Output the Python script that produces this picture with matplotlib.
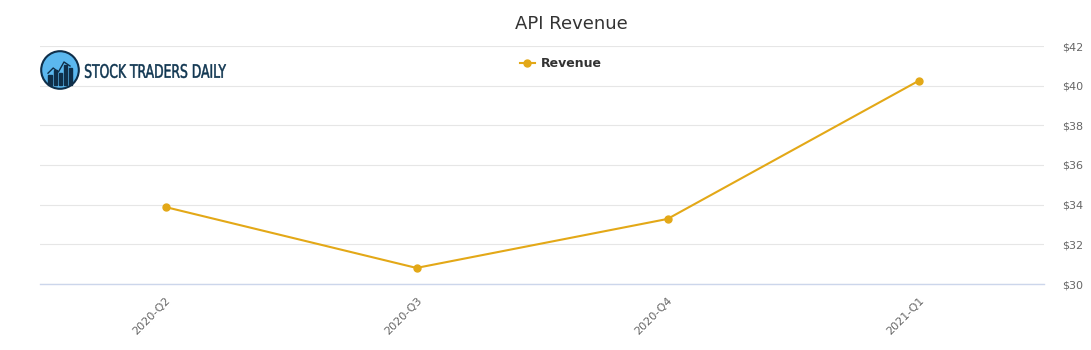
import matplotlib.pyplot as plt
from matplotlib.patches import Circle, Rectangle, PathPatch
from matplotlib.textpath import TextPath
from matplotlib.font_manager import FontProperties
from matplotlib.transforms import Affine2D

quarters = ["2020-Q2", "2020-Q3", "2020-Q4", "2021-Q1"]
revenue = [33.88, 30.81, 33.28, 40.24]
yticks = [30, 32, 34, 36, 38, 40, 42]

LINE = "#e3a817"
W, H = 1091, 350

fig = plt.figure(figsize=(W / 100, H / 100), dpi=100)
ax = fig.add_axes([40 / W, 1 - 284 / H, (1044 - 40) / W, (284 - 46) / H])

x = list(range(len(quarters)))
ax.plot(x, revenue, color=LINE, lw=1.5, marker="o", ms=5, zorder=3, label="Revenue")

ax.set_xlim(-0.5, len(quarters) - 0.5)
ax.set_ylim(30, 42)
ax.set_yticks(yticks)
ax.set_yticklabels([f"${v}" for v in yticks])
ax.yaxis.tick_right()
ax.tick_params(axis="y", length=0, pad=13, labelsize=8, labelcolor="#666666")
ax.set_xticks(x)
ax.set_xticklabels(quarters, rotation=45, ha="right", rotation_mode="anchor")
ax.tick_params(axis="x", length=0, pad=8, labelsize=8, labelcolor="#666666")
ax.grid(axis="y", color="#e6e6e6", lw=0.8)
ax.set_axisbelow(True)
for s in ["top", "left", "right"]:
    ax.spines[s].set_visible(False)
ax.spines["bottom"].set_color("#ccd6eb")
ax.spines["bottom"].set_linewidth(1)

fig.text(571 / W, 1 - 24 / H, "API Revenue", ha="center", va="center",
         fontsize=13, color="#333333")

leg = ax.legend(loc="center", bbox_to_anchor=((561 - 40) / (1044 - 40), (284 - 64) / (284 - 46)),
                frameon=False, fontsize=9, handlelength=1.2, handletextpad=0.5)
for t in leg.get_texts():
    t.set_fontweight("bold")
    t.set_color("#333333")

# logo
lax = fig.add_axes([40 / W, 1 - 90 / H, 40 / W, 40 / H])
lax.set_xlim(0, 1)
lax.set_ylim(0, 1)
lax.set_aspect("equal")
lax.axis("off")
lax.add_patch(Circle((0.5, 0.5), 0.47, facecolor="#5bb8ef", edgecolor="#0f2f4a", lw=1.5))
for bx, bh in [(0.25, 0.25), (0.38, 0.38), (0.51, 0.3), (0.64, 0.5), (0.77, 0.42)]:
    lax.add_patch(Rectangle((bx - 0.04, 0.12), 0.08, bh, color="#0f2f4a"))
lax.plot([0.2, 0.33, 0.46, 0.6, 0.75], [0.42, 0.55, 0.45, 0.7, 0.6], color="#0f2f4a", lw=1)

# condensed logo text, squeezed horizontally into pixel box 85..226, caps 64..78
tp = TextPath((0, 0), "STOCK TRADERS DAILY", size=10,
              prop=FontProperties(family="DejaVu Sans"))
bb = tp.get_extents()
sx = (226 - 85) / bb.width
sy = (78 - 64) / bb.height
tr = Affine2D().translate(-bb.x0, -bb.y0).scale(sx, sy).translate(85, H - 78)
fig.patches.append(PathPatch(tr.transform_path(tp), facecolor="#0f3550",
                             edgecolor="#0f3550", lw=0.35,
                             transform=None, figure=fig))

fig.savefig("out.png", dpi=100)
